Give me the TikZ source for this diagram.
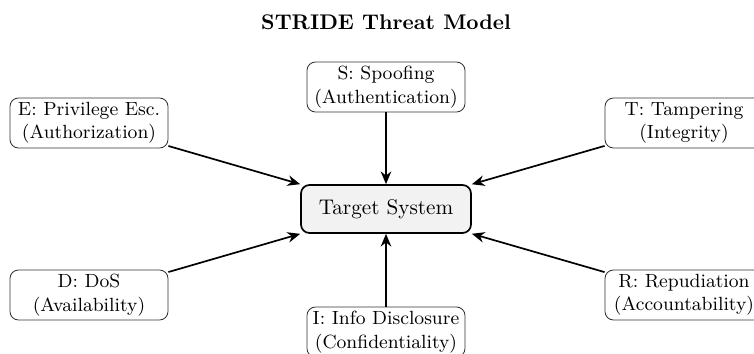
\documentclass[tikz,border=0pt]{standalone}
\usetikzlibrary{arrows.meta}
\begin{document}
\begin{tikzpicture}[x=0.4717pt,y=-0.4717pt,
  threat/.style={draw=black!80, rounded corners=4pt, align=center, font=\small,
    minimum width=158*0.4717pt, minimum height=50*0.4717pt, inner sep=1pt},
  core/.style={draw=black, thick, fill=black!5, rounded corners=4pt,
    minimum width=170*0.4717pt, minimum height=48*0.4717pt},
  attack/.style={-{Stealth[length=6pt,width=5pt]}, thick}]
\useasboundingbox (0,0) rectangle (754,353);
\node[font=\bfseries] (title) at (386,22) {STRIDE Threat Model};
\node[core] (sys) at (386,209) {Target System};
\node[threat] (s) at (386,87) {S: Spoofing\\(Authentication)};
\node[threat] (t) at (684,123) {T: Tampering\\(Integrity)};
\node[threat] (r) at (684,295) {R: Repudiation\\(Accountability)};
\node[threat] (i) at (386,332) {I: Info Disclosure\\(Confidentiality)};
\node[threat] (d) at (89,295) {D: DoS\\(Availability)};
\node[threat] (e) at (89,123) {E: Privilege Esc.\\(Authorization)};
\foreach \n in {s,t,r,i,d,e} \draw[attack] (\n) -- (sys);
\end{tikzpicture}
\end{document}
